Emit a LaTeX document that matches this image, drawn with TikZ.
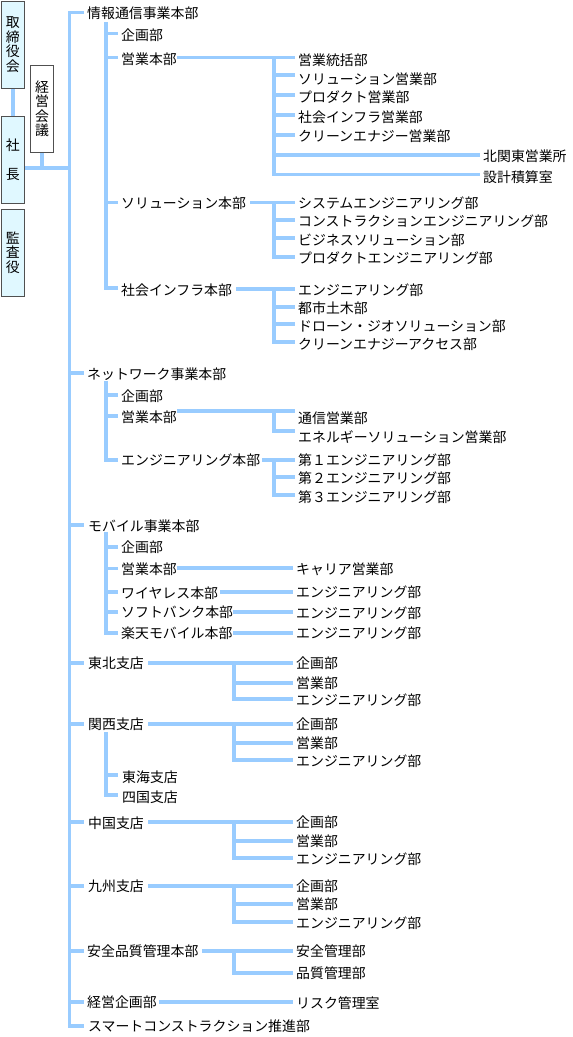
\documentclass[tikz,border=0pt]{standalone}
\usepackage{fontspec}
\setmainfont{Noto Sans CJK JP}
\definecolor{lblue}{RGB}{153,204,255}
\definecolor{boxfill}{RGB}{224,248,255}
\definecolor{boxline}{RGB}{80,80,80}
\begin{document}
\begin{tikzpicture}[x=1pt,y=-1pt,
  ln/.style={draw=lblue, line width=3.4pt, line join=miter},
  lbl/.style={anchor=west, inner sep=0pt, text height=11.9pt, text depth=1.3pt, font=\fontsize{13.9}{16}\selectfont},
  orgbox/.style={draw=boxline, line width=0.9pt, fill=boxfill, minimum width=23pt, inner sep=0pt, align=center, font=\fontsize{13.9}{14.5}\selectfont}]
\useasboundingbox (0,0) rectangle (573,1037);

% ---------- left boxes ----------
\node[orgbox, minimum height=87pt] (torishimari) at (12.8,44.8) {取\\締\\役\\会};
\node[orgbox, minimum height=86.6pt] (shacho) at (12.8,160) {社\\[14.5pt]長};
\node[orgbox, minimum height=86.7pt] (kansa) at (12.8,252.7) {監\\査\\役};
\node[orgbox, fill=white, minimum height=87pt] (keiei) at (42,108.8) {経\\営\\会\\議};
\draw[ln] (torishimari.south) -- (shacho.north);
\coordinate (jshacho) at (42,168);
\draw[ln] (keiei.south) -- (jshacho);
\draw[ln] (shacho.east |- jshacho) -- (69.5,168);

% ---------- trunk ----------
\draw[ln] (84,12.5) -- (69.5,12.5) -- (69.5,1026) -- (84,1026);
\foreach \y in {373,525,663,724,822,886,951,1002}
  \draw[ln] (69.5,\y) -- (84,\y);

% ---------- level 1 ----------
\node[lbl] (joho) at (87,13) {情報通信事業本部};
\node[lbl] (network) at (87,374) {ネットワーク事業本部};
\node[lbl] (mobile) at (88,526) {モバイル事業本部};
\node[lbl] (tohoku) at (88,663) {東北支店};
\node[lbl] (kansai) at (88,724) {関西支店};
\node[lbl] (chugoku) at (88,823) {中国支店};
\node[lbl] (kyushu) at (88,886) {九州支店};
\node[lbl] (anzen) at (87,951) {安全品質管理本部};
\node[lbl] (keikaku) at (87,1002) {経営企画部};
\node[lbl] (smart) at (88,1026) {スマートコンストラクション推進部};

% ---------- 情報通信事業本部 ----------
\draw[ln] (106,22) -- (106,288) -- (118,288);
\foreach \y in {33.5,57.3,202.7} \draw[ln] (106,\y) -- (118,\y);
\node[lbl] (j-kikaku) at (121,35) {企画部};
\node[lbl] (j-eigyo) at (121,59) {営業本部};
\node[lbl] (j-sol) at (121,203) {ソリューション本部};
\node[lbl] (j-infra) at (121,290) {社会インフラ本部};

% 営業本部
\draw[ln] (177,57.3) -- (295,57.3);
\draw[ln] (274,57.3) -- (274,174.5) -- (480,174.5);
\foreach \y in {75,95,115,135} \draw[ln] (274,\y) -- (295,\y);
\draw[ln] (274,155) -- (480,155);
\node[lbl] (je1) at (298,60) {営業統括部};
\node[lbl] (je2) at (298,79) {ソリューション営業部};
\node[lbl] (je3) at (298,97) {プロダクト営業部};
\node[lbl] (je4) at (298,117) {社会インフラ営業部};
\node[lbl] (je5) at (298,136) {クリーンエナジー営業部};
\node[lbl] (je6) at (483,156) {北関東営業所};
\node[lbl] (je7) at (483,177) {設計積算室};

% ソリューション本部
\draw[ln] (250,202.7) -- (295,202.7);
\draw[ln] (274,202.7) -- (274,257) -- (295,257);
\foreach \y in {220,238} \draw[ln] (274,\y) -- (295,\y);
\node[lbl] (js1) at (298,203) {システムエンジニアリング部};
\node[lbl] (js2) at (298,221) {コンストラクションエンジニアリング部};
\node[lbl] (js3) at (298,240) {ビジネスソリューション部};
\node[lbl] (js4) at (298,258) {プロダクトエンジニアリング部};

% 社会インフラ本部
\draw[ln] (236,289) -- (295,289);
\draw[ln] (274,289) -- (274,342) -- (295,342);
\foreach \y in {307,324} \draw[ln] (274,\y) -- (295,\y);
\node[lbl] (ji1) at (298,290) {エンジニアリング部};
\node[lbl] (ji2) at (298,308) {都市土木部};
\node[lbl] (ji3) at (298,326) {ドローン・ジオソリューション部};
\node[lbl] (ji4) at (298,344) {クリーンエナジーアクセス部};

% ---------- ネットワーク事業本部 ----------
\draw[ln] (106,381) -- (106,460) -- (118,460);
\foreach \y in {395,416} \draw[ln] (106,\y) -- (118,\y);
\node[lbl] (n-kikaku) at (121,396) {企画部};
\node[lbl] (n-eigyo) at (121,417) {営業本部};
\node[lbl] (n-eng) at (121,460) {エンジニアリング本部};
\draw[ln] (177,411) -- (295,411);
\draw[ln] (274,411) -- (274,431) -- (295,431);
\node[lbl] (ne1) at (298,418) {通信営業部};
\node[lbl] (ne2) at (298,437) {エネルギーソリューション営業部};
\draw[ln] (262,460) -- (295,460);
\draw[ln] (274,460) -- (274,495) -- (295,495);
\draw[ln] (274,477) -- (295,477);
\node[lbl] (nn1) at (298,460) {第１エンジニアリング部};
\node[lbl] (nn2) at (298,478) {第２エンジニアリング部};
\node[lbl] (nn3) at (298,497) {第３エンジニアリング部};

% ---------- モバイル事業本部 ----------
\draw[ln] (106,532) -- (106,633) -- (118,633);
\foreach \y in {547,568.5,592,612} \draw[ln] (106,\y) -- (118,\y);
\node[lbl] (m-kikaku) at (121,547) {企画部};
\node[lbl] (m-eigyo) at (121,569) {営業本部};
\node[lbl] (m-wl) at (121,593) {ワイヤレス本部};
\node[lbl] (m-sb) at (121,612) {ソフトバンク本部};
\node[lbl] (m-rk) at (121,633) {楽天モバイル本部};
\draw[ln] (177,568) -- (293,568);
\draw[ln] (220,592) -- (293,592);
\draw[ln] (233,612) -- (293,612);
\draw[ln] (233,633) -- (293,633);
\node[lbl] (me1) at (296,569) {キャリア営業部};
\node[lbl] (me2) at (296,592) {エンジニアリング部};
\node[lbl] (me3) at (296,613) {エンジニアリング部};
\node[lbl] (me4) at (296,633) {エンジニアリング部};

% ---------- 支店 ----------
\foreach \a/\b/\c/\n in {663/683/699/th,724/743/760/ks,822/841/858/cg,886/904/922/ky}{
  \draw[ln] (148,\a) -- (293,\a);
  \draw[ln] (234,\a) -- (234,\c) -- (293,\c);
  \draw[ln] (234,\b) -- (293,\b);
  \node[lbl] (\n-1) at (296,\a) {企画部};
  \node[lbl] (\n-2) at (296,\b) {営業部};
  \node[lbl] (\n-3) at (296,\c+1) {エンジニアリング部};
}
\draw[ln] (106,732) -- (106,795) -- (118,795);
\draw[ln] (106,775) -- (118,775);
\node[lbl] (tokai) at (122,777) {東海支店};
\node[lbl] (shikoku) at (122,797) {四国支店};

% ---------- 安全品質管理本部 ----------
\draw[ln] (202,951) -- (293,951);
\draw[ln] (234,951) -- (234,973) -- (293,973);
\node[lbl] (an1) at (296,951) {安全管理部};
\node[lbl] (an2) at (296,973) {品質管理部};

% ---------- 経営企画部 ----------
\draw[ln] (159,1002) -- (293,1002);
\node[lbl] (risk) at (296,1003) {リスク管理室};
\end{tikzpicture}
\end{document}
